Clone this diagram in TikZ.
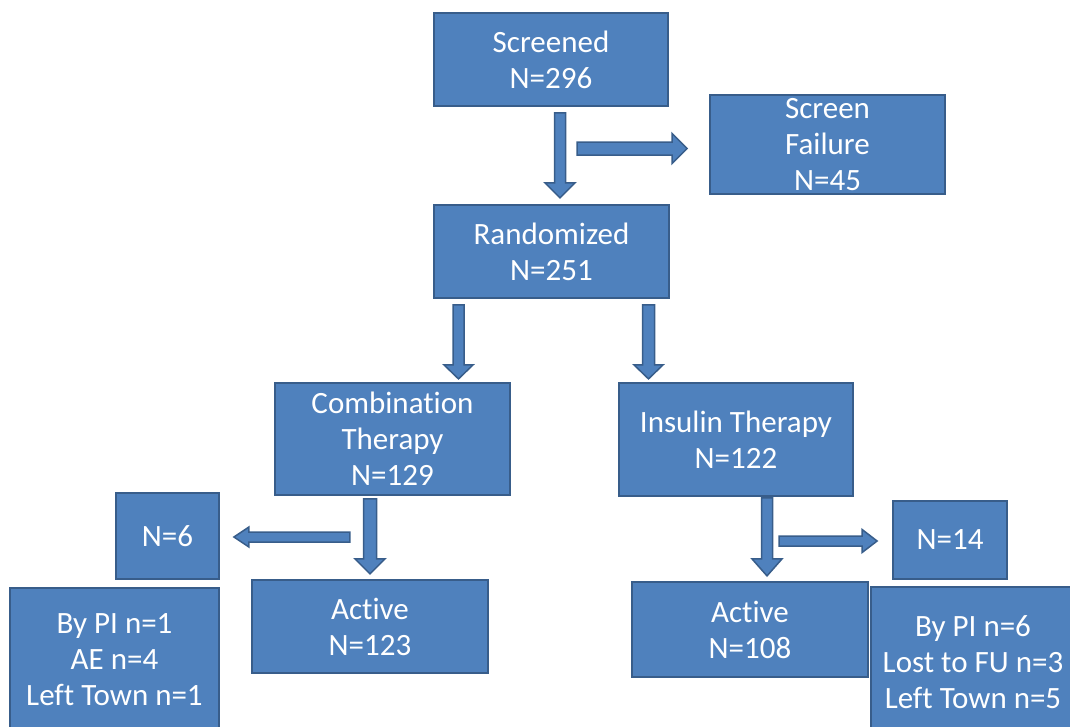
\documentclass[tikz,border=0pt]{standalone}
\usepackage{fontspec}
\setmainfont{Carlito}[Ligatures=CommonOff]
\usetikzlibrary{calc}
\definecolor{boxfill}{HTML}{4F81BD}
\definecolor{boxedge}{HTML}{385D8A}
\tikzset{
  box/.style 2 args={draw=boxedge, fill=boxfill, line width=1.8pt, text=white,
    align=center, inner sep=0pt, font=\fontsize{31}{36}\selectfont,
    minimum width=#1pt, minimum height=#2pt},
  arrowst/.style={draw=boxedge, fill=boxfill, line width=1.5pt, line join=miter},
  pics/barrow/.style n args={4}{code={
    \filldraw[arrowst] (0,-#2) -- ({#1-#4},-#2) -- ({#1-#4},-#3) -- (#1,0)
      -- ({#1-#4},#3) -- ({#1-#4},#2) -- (0,#2) -- cycle;}}
}
\begin{document}
\begin{tikzpicture}[x=1pt,y=-1pt]
\useasboundingbox (0,0) rectangle (1070,726);
\clip (0,0) rectangle (1070,726);
% boxes
\node[box={234}{93}]  (scr)   at (551,59.5)   {Screened\\N=296};
\node[box={235}{99}]  (sf)    at (827.5,144.5) {Screen\\Failure\\N=45};
\node[box={235}{93}]  (rnd)   at (551.5,251.5) {Randomized\\N=251};
\node[box={235}{112}] (comb)  at (392.5,439)   {Combination\\Therapy\\N=129};
\node[box={234}{113}] (ins)   at (736,439.5)   {Insulin Therapy\\N=122};
\node[box={103}{86}]  (n6)    at (167.5,536)   {N=6};
\node[box={209}{144}] (pi1)   at (114.5,660)   {By PI n=1\\AE n=4\\Left Town n=1};
\node[box={236}{93}]  (act1)  at (370,626.5)   {Active\\N=123};
\node[box={114}{78}]  (n14)   at (950,540)     {N=14};
\node[box={204}{151}] (pi2)   at (973,662.5)   {By PI n=6\\Lost to FU n=3\\Left Town n=5};
\node[box={236}{95}]  (act2)  at (750,629.5)   {Active\\N=108};
% block arrows
\pic[rotate=-90] at ($(scr.south)+(9,6)$)    {barrow={85}{5.5}{15}{15}};
\pic             at ($(sf.west)+(-132,4)$)   {barrow={110}{6.5}{15}{15}};
\pic[rotate=-90] at ($(rnd.south)+(-93,6)$)  {barrow={74}{5.5}{14.5}{14}};
\pic[rotate=-90] at ($(rnd.south)+(97,6)$)   {barrow={74}{6}{14.5}{14}};
\pic[rotate=-90] at ($(comb.south)+(-22.5,3)$) {barrow={75}{6.5}{15}{15}};
\pic[rotate=180] at ($(n6.east)+(130,1)$)    {barrow={116}{5}{10}{15}};
\pic[rotate=-90] at ($(ins.south)+(31,1)$)   {barrow={78}{5.5}{15}{17}};
\pic             at ($(n14.west)+(-113,1)$)  {barrow={98}{5}{11.5}{15}};
\end{tikzpicture}
\end{document}
